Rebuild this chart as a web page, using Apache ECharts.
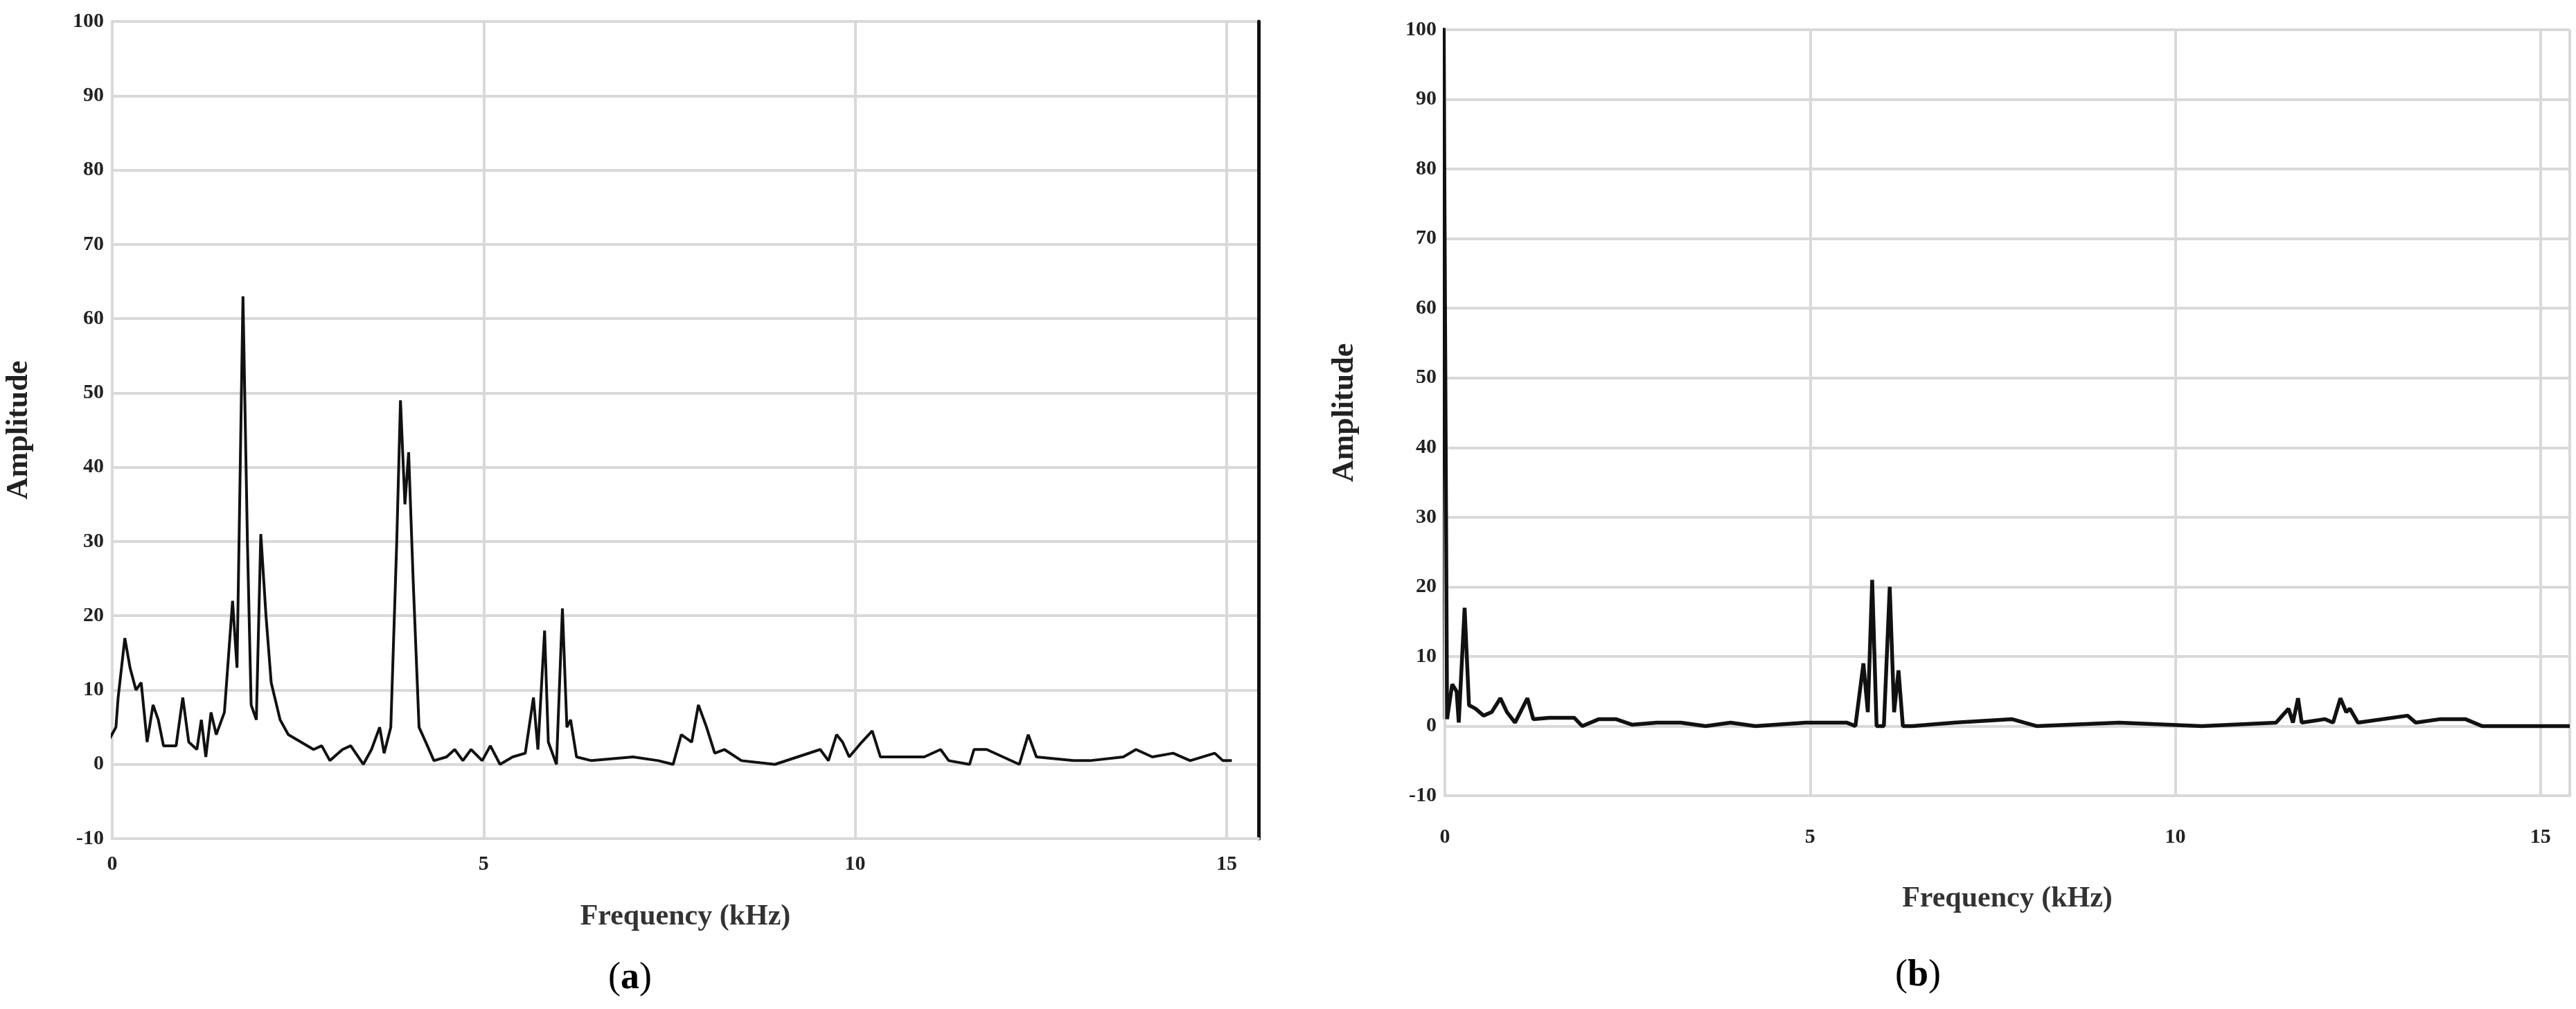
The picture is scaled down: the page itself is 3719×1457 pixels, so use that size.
<!DOCTYPE html>
<html><head><meta charset="utf-8">
<script src="https://cdn.jsdelivr.net/npm/echarts@6/dist/echarts.min.js"></script>
<style>html,body{margin:0;padding:0;background:#fff}#c{width:3719px;height:1457px}</style>
</head><body><div id="c"></div>
<script>
// Panel (a)
const freqA = [-0.1,-0.08,-0.06,0.05,0.08,0.17,0.24,0.32,0.39,0.47,0.55,0.62,0.69,0.86,0.95,1.03,1.14,1.2,1.26,1.33,1.4,1.51,1.62,1.68,1.76,1.82,1.87,1.94,2.0,2.07,2.14,2.26,2.37,2.54,2.71,2.82,2.93,3.1,3.21,3.38,3.49,3.6,3.66,3.75,3.83,3.88,3.94,3.99,4.05,4.13,4.22,4.33,4.5,4.61,4.72,4.83,4.98,5.09,5.22,5.39,5.56,5.67,5.73,5.82,5.87,5.98,6.06,6.12,6.17,6.25,6.45,7.01,7.35,7.55,7.66,7.8,7.89,8.0,8.11,8.24,8.47,8.92,9.53,9.64,9.75,9.83,9.92,10.09,10.23,10.34,10.93,11.15,11.26,11.54,11.6,11.77,11.99,12.21,12.33,12.44,12.94,13.16,13.61,13.78,14.0,14.28,14.51,14.84,14.95,15.07,15.29,15.43];
const ampA  = [2,105,3,5,9,17,13,10,11,3,8,6,2.5,2.5,9,3,2,6,1,7,4,7,22,13,63,30,8,6,31,20,11,6,4,3,2,2.5,0.5,2,2.5,0,2,5,1.5,5,30,49,35,42,25,5,3,0.5,1,2,0.5,2,0.5,2.5,0,1,1.5,9,2,18,3,0,21,5,6,1,0.5,1,0.5,0,4,3,8,5,1.5,2,0.5,0,2,0.5,4,3,1,3,4.5,1,1,2,0.5,0,2,2,1,0,4,1,0.5,0.5,1,2,1,1.5,0.5,1.5,0.5,0.5];
// Panel (b)
const freqB = [-0.05,-0.02,0.03,0.1,0.16,0.19,0.27,0.33,0.42,0.53,0.64,0.76,0.85,0.96,1.13,1.21,1.43,1.77,1.88,2.11,2.34,2.56,2.9,3.23,3.57,3.91,4.25,4.94,5.5,5.62,5.73,5.79,5.85,5.91,6.01,6.09,6.15,6.21,6.27,6.4,6.97,7.76,8.1,9.23,10.36,11.38,11.55,11.61,11.68,11.73,12.05,12.16,12.26,12.34,12.39,12.5,13.18,13.29,13.63,13.97,14.2,15.4];
const ampB  = [1,105,1,6,5,0.5,17,3,2.5,1.5,2,4,2,0.5,4,1,1.2,1.2,0,1,1,0.2,0.5,0.5,0,0.5,0,0.5,0.5,0,9,2,21,0,0,20,2,8,0,0,0.5,1,0,0.5,0,0.5,2.5,0.5,4,0.5,1,0.5,4,2,2.5,0.5,1.5,0.5,1,1,0,0];
const xTicks = [0,5,10,15];
const yMin = -10, yMax = 100;

const zip = (xs, ys) => xs.map((x,i)=>[x, ys[i]]);
const F = 'Times New Roman, Liberation Serif, serif';
const grid = '#d9d9d9';
function xa(idx, max, nameGap, labelMargin){
  return {type:'value', gridIndex:idx, min:0, max:max, interval:5,
    name:'Frequency (kHz)', nameLocation:'middle', nameGap:nameGap,
    nameTextStyle:{fontFamily:F, fontWeight:'bold', fontSize:42, color:'#333'},
    axisLine:{show:true, onZero:false, lineStyle:{color:grid, width:4}},
    axisTick:{show:false},
    axisLabel:{fontFamily:F, fontWeight:'bold', fontSize:30, color:'#222', margin:labelMargin, showMaxLabel:false,
      formatter: v => xTicks.includes(v) ? String(v) : ''},
    splitLine:{show:true, lineStyle:{color:grid, width:4}}};
}
function ya(idx, nameGap){
  return {type:'value', gridIndex:idx, min:yMin, max:yMax, interval:10,
    name:'Amplitude', nameLocation:'middle', nameGap:nameGap, nameRotate:90,
    nameTextStyle:{fontFamily:F, fontWeight:'bold', fontSize:44, color:'#222'},
    axisLine:{show:true, lineStyle:{color:grid, width:4}},
    axisTick:{show:false},
    axisLabel:{fontFamily:F, fontWeight:'bold', fontSize:30, color:'#222', margin:12},
    splitLine:{show:true, lineStyle:{color:grid, width:4}}};
}
const chart = echarts.init(document.getElementById('c'));
chart.setOption({
  animation:false, backgroundColor:'#fff',
  grid:[{left:162, right:1902, top:31, height:1180},{left:2086, right:9, top:43, height:1106}],
  xAxis:[xa(0,15.43,92,22), xa(1,15.4,128,45)],
  yAxis:[ya(0,112), ya(1,122),
    {type:'value', gridIndex:0, min:yMin, max:yMax, position:'right', axisLine:{show:true, lineStyle:{color:'#111', width:5}}, axisLabel:{show:false}, axisTick:{show:false}, splitLine:{show:false}}],
  series:[
    {type:'line', xAxisIndex:0, yAxisIndex:0, data:zip(freqA,ampA), showSymbol:false, lineStyle:{color:'#111', width:4}, clip:true},
    {type:'line', xAxisIndex:1, yAxisIndex:1, data:zip(freqB,ampB), showSymbol:false, lineStyle:{color:'#111', width:5.5}, clip:true}
  ],
  graphic:[
    {type:'text', left:878, top:1386, style:{text:'({a|a})', fontFamily:F, fontSize:54, fill:'#000', rich:{a:{fontFamily:F, fontSize:54, fontWeight:'bold', fill:'#000'}}}},
    {type:'text', left:2736, top:1382, style:{text:'({a|b})', fontFamily:F, fontSize:54, fill:'#000', rich:{a:{fontFamily:F, fontSize:54, fontWeight:'bold', fill:'#000'}}}}
  ]
});
</script></body></html>
